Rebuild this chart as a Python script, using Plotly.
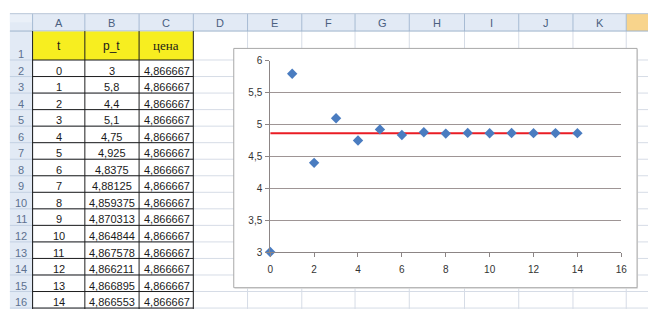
import plotly.graph_objects as go

W, H = 648, 313

# ---------------- data ----------------
t = [0, 1, 2, 3, 4, 5, 6, 7, 8, 9, 10, 11, 12, 13, 14]
p_t = [3, 5.8, 4.4, 5.1, 4.75, 4.925, 4.8375, 4.88125, 4.859375,
       4.870313, 4.864844, 4.867578, 4.866211, 4.866895, 4.866553]
price = [4.866667, 4.866667, 4.866667, 4.866667, 4.866667, 4.866667, 4.866667,
         4.866667, 4.866667, 4.866667, 4.866667, 4.866667, 4.866667, 4.866667,
         4.866667]
col_letters = ["A", "B", "C", "D", "E", "F", "G", "H", "I", "J", "K"]
header_cells = ["t", "p_t", "цена"]
row_numbers = [str(i) for i in range(1, 17)]
x_ticks = [0, 2, 4, 6, 8, 10, 12, 14, 16]
y_ticks = [3, 3.5, 4, 4.5, 5, 5.5, 6]

# ---------------- sheet geometry (pixels) ----------------
col_edges = [7, 30, 83, 138, 193, 248, 303, 357, 412, 468, 523, 578, 632, 700]
HDR_TOP, HDR_BOT = 9, 27
ROW1_BOT = 57
ROW_H = 17.14
row_edges = [HDR_BOT, ROW1_BOT] + [ROW1_BOT + ROW_H * (k + 1) for k in range(15)]

CHART = (234, 45, 643, 293)          # chart box
PLOT = (271, 58, 627, 256)           # plot area (x0, ytop, x1, ybottom)


def px(x):
    return x / W


def py(y):
    return 1 - y / H


def comma(v):
    return str(v).replace(".", ",")


shapes = []


def rect(x0, y0, x1, y1, fill, line=None, lw=0, layer="below"):
    shapes.append(dict(type="rect", xref="paper", yref="paper",
                       x0=px(x0), x1=px(x1), y0=py(y1), y1=py(y0),
                       fillcolor=fill, layer=layer,
                       line=dict(color=line or fill, width=lw)))


def line(x0, y0, x1, y1, color, lw=1, layer="below"):
    shapes.append(dict(type="line", xref="paper", yref="paper",
                       x0=px(x0), x1=px(x1), y0=py(y0), y1=py(y1),
                       layer=layer, line=dict(color=color, width=lw)))


GRID = "#d6dce6"
HDR_FILL = "#e2eaf5"
HDR_LINE = "#a7bbd3"

# cell gridlines
for x in col_edges[4:]:
    line(x, HDR_BOT, x, H + 2, GRID)
for y in row_edges[1:]:
    line(30, y, W + 10, y, GRID)

# header band & row-number column
rect(7, HDR_TOP, W + 10, HDR_BOT, HDR_FILL)
rect(7, HDR_TOP, 7 + 23, (HDR_TOP + HDR_BOT) / 2, "#eaf0f8")
rect(632, HDR_TOP, W + 10, HDR_BOT, "#f8d48c")
rect(7, HDR_BOT, 30, H + 2, HDR_FILL)
for x in col_edges[1:-1]:
    line(x, HDR_TOP, x, HDR_BOT, HDR_LINE)
for y in row_edges[1:]:
    line(7, y, 30, y, "#c3d0e2")
line(7, HDR_TOP, W + 10, HDR_TOP, "#b9c7d8")
line(7, HDR_BOT, W + 10, HDR_BOT, "#9eb4cd")
line(30, HDR_BOT, 30, H + 2, "#9eb4cd")

# table: yellow header row and black borders
rect(30.5, HDR_BOT + 0.5, 193, ROW1_BOT, "#f7ee20")
for y in row_edges[1:]:
    line(30, y, 193, y, "#1e1e1e")
for x in col_edges[1:5]:
    line(x, HDR_BOT, x, H + 2, "#1e1e1e")

# chart box
rect(CHART[0] + 1, CHART[1] + 1, CHART[2] + 1, CHART[3] + 1, "#e4e4e4")
rect(CHART[0], CHART[1], CHART[2], CHART[3], "white", "#a9a9a9", 1)

# ---------------- annotations (sheet text) ----------------
ann = []
HDR_COLOR = "#4a5f80"
for i, letter in enumerate(col_letters):
    cx = (col_edges[i + 1] + col_edges[i + 2]) / 2
    ann.append(dict(x=px(cx), y=py(18.5), text=letter, showarrow=False,
                    xref="paper", yref="paper", xanchor="center", yanchor="middle",
                    font=dict(family="Liberation Sans", size=11, color=HDR_COLOR)))

for i, r in enumerate(row_numbers):
    if i == 0:
        cy = 51
    else:
        cy = ROW1_BOT + ROW_H * (i - 1) + 11
    ann.append(dict(x=px(18.5), y=py(cy), text=r, showarrow=False,
                    xref="paper", yref="paper", xanchor="center", yanchor="middle",
                    font=dict(family="Liberation Sans", size=11, color="#5d7190")))

for j, h in enumerate(header_cells):
    cx = (col_edges[j + 1] + col_edges[j + 2]) / 2
    fam = "Liberation Serif" if j == 2 else "Liberation Sans"
    ann.append(dict(x=px(cx), y=py(42), text=h, showarrow=False,
                    xref="paper", yref="paper", xanchor="center", yanchor="middle",
                    font=dict(family=fam, size=13 if j == 2 else 12, color="#1a1a1a")))

for k in range(len(t)):
    cy = ROW1_BOT + ROW_H * k + 11
    vals = [str(t[k]), comma(p_t[k]), comma(price[k])]
    for j, v in enumerate(vals):
        cx = (col_edges[j + 1] + col_edges[j + 2]) / 2 + (1 if j == 2 else 0)
        ann.append(dict(x=px(cx), y=py(cy), text=v, showarrow=False,
                        xref="paper", yref="paper", xanchor="center", yanchor="middle",
                        font=dict(family="Liberation Sans", size=11, color="#1a1a1a")))

# ---------------- chart ----------------
fig = go.Figure()
fig.add_trace(go.Scatter(x=t, y=price, mode="lines",
                         line=dict(color="#ea1c24", width=2),
                         showlegend=False, hoverinfo="skip"))
fig.add_trace(go.Scatter(x=t, y=p_t, mode="markers",
                         marker=dict(symbol="diamond", size=8, color="#4a7cc0",
                                     line=dict(width=0)),
                         cliponaxis=False, showlegend=False))

AX = "#8c8585"
TICKF = dict(family="Liberation Sans", size=10, color="#333333")
fig.update_layout(
    width=W, height=H,
    margin=dict(l=0, r=0, t=0, b=0),
    paper_bgcolor="white", plot_bgcolor="rgba(0,0,0,0)",
    separators=", ",
    shapes=shapes, annotations=ann,
    xaxis=dict(domain=[px(PLOT[0]), px(PLOT[2])], range=[0, 16],
               tickvals=x_ticks, showgrid=False, zeroline=False,
               showline=True, linecolor=AX, linewidth=1,
               ticks="outside", ticklen=4, tickcolor=AX, ticklabelstandoff=4,
               tickfont=TICKF, fixedrange=True),
    yaxis=dict(domain=[py(PLOT[3]), py(PLOT[1])], range=[3, 6],
               tickvals=y_ticks, showgrid=True, gridcolor="#9e9595", gridwidth=1,
               zeroline=False, showline=True, linecolor=AX, linewidth=1,
               ticks="outside", ticklen=4, tickcolor=AX, ticklabelstandoff=1,
               tickfont=TICKF, fixedrange=True),
)

fig.write_html(
    "out.html",
    config={"displayModeBar": False},
    post_script=("document.documentElement.style.margin='0';"
                 "document.body.style.margin='0';"
                 "document.body.style.overflow='hidden';"),
)
